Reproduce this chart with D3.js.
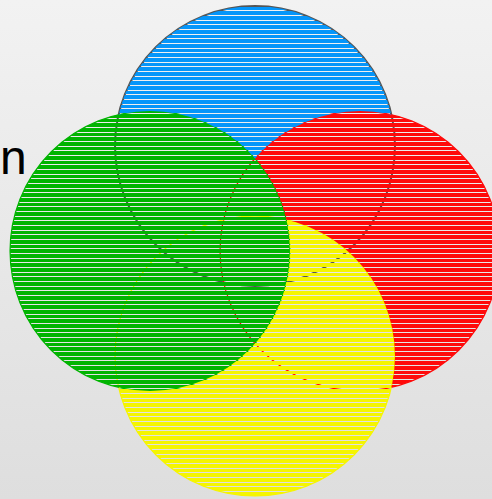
<!DOCTYPE html>
<html>
<head>
<meta charset="utf-8">
<script src="https://cdn.jsdelivr.net/npm/d3@7"></script>
<style>
  html, body { margin: 0; padding: 0; overflow: hidden; }
</style>
</head>
<body>
<script>
// Four sets, listed in draw order (back to front)
const setNames = ["Blue", "Red", "Yellow", "Green"];
const setX = [0, 1, 0, -1];
const setY = [1, 0, -1, 0];
const setRadius = [1.333, 1.333, 1.333, 1.333];
const setFill = ["#0596fa", "#ff0a0a", "#f5f500", "#00b400"];
const setStroke = ["#555555", "#ff0a0a", "#f5f500", "#00b400"];
const titleText = "n";

const width = 492, height = 499;

const svg = d3.select("body").append("svg")
  .attr("width", width)
  .attr("height", height);

const defs = svg.append("defs");

// Background gradient
const grad = defs.append("linearGradient")
  .attr("id", "bg")
  .attr("x1", 0).attr("y1", 0).attr("x2", 0).attr("y2", 1);
grad.append("stop").attr("offset", "0%").attr("stop-color", "#f2f2f2");
grad.append("stop").attr("offset", "100%").attr("stop-color", "#dedede");

// Horizontal gaps through which the background and the outlines show
const pat = defs.append("pattern")
  .attr("id", "stripes")
  .attr("patternUnits", "userSpaceOnUse")
  .attr("x", 0).attr("y", 1)
  .attr("width", width).attr("height", 14);
pat.append("rect").attr("width", width).attr("height", 14).attr("fill", "white");
pat.selectAll("rect.gap")
  .data([0, 5, 9])
  .enter().append("rect")
  .attr("class", "gap")
  .attr("y", d => d)
  .attr("width", width)
  .attr("height", 1)
  .attr("shape-rendering", "crispEdges")
  .attr("fill", "black");

defs.append("mask")
  .attr("id", "gapMask")
  .attr("maskUnits", "userSpaceOnUse")
  .attr("x", 0).attr("y", 0).attr("width", width).attr("height", height)
  .append("rect")
  .attr("width", width).attr("height", height)
  .attr("fill", "url(#stripes)");

svg.append("rect")
  .attr("width", width)
  .attr("height", height)
  .attr("fill", "url(#bg)");

// Scales
const x = d3.scaleLinear().domain([-1, 1]).range([150, 360]);
const y = d3.scaleLinear().domain([-1, 1]).range([356, 146]);
const r = d => x(d) - x(0);

const sets = setNames.map((name, i) => ({
  name, cx: setX[i], cy: setY[i], r: setRadius[i], fill: setFill[i], stroke: setStroke[i]
}));

// Outlines underneath the striped fills
svg.append("g").selectAll("circle")
  .data(sets)
  .enter().append("circle")
  .attr("cx", d => x(d.cx))
  .attr("cy", d => y(d.cy))
  .attr("r", d => r(d.r))
  .attr("fill", "none")
  .attr("stroke", d => d.stroke)
  .attr("stroke-width", d => d.name === "Blue" ? 2 : 1.2);

// Striped fills
svg.append("g")
  .attr("mask", "url(#gapMask)")
  .selectAll("circle")
  .data(sets)
  .enter().append("circle")
  .attr("cx", d => x(d.cx))
  .attr("cy", d => y(d.cy))
  .attr("r", d => r(d.r))
  .attr("fill", d => d.fill);

// Partial title at the left edge
svg.append("text")
  .attr("x", 0)
  .attr("y", 174)
  .attr("font-family", "Liberation Sans, Arial, sans-serif")
  .attr("font-size", 48)
  .attr("fill", "#000")
  .text(titleText);
</script>
</body>
</html>
